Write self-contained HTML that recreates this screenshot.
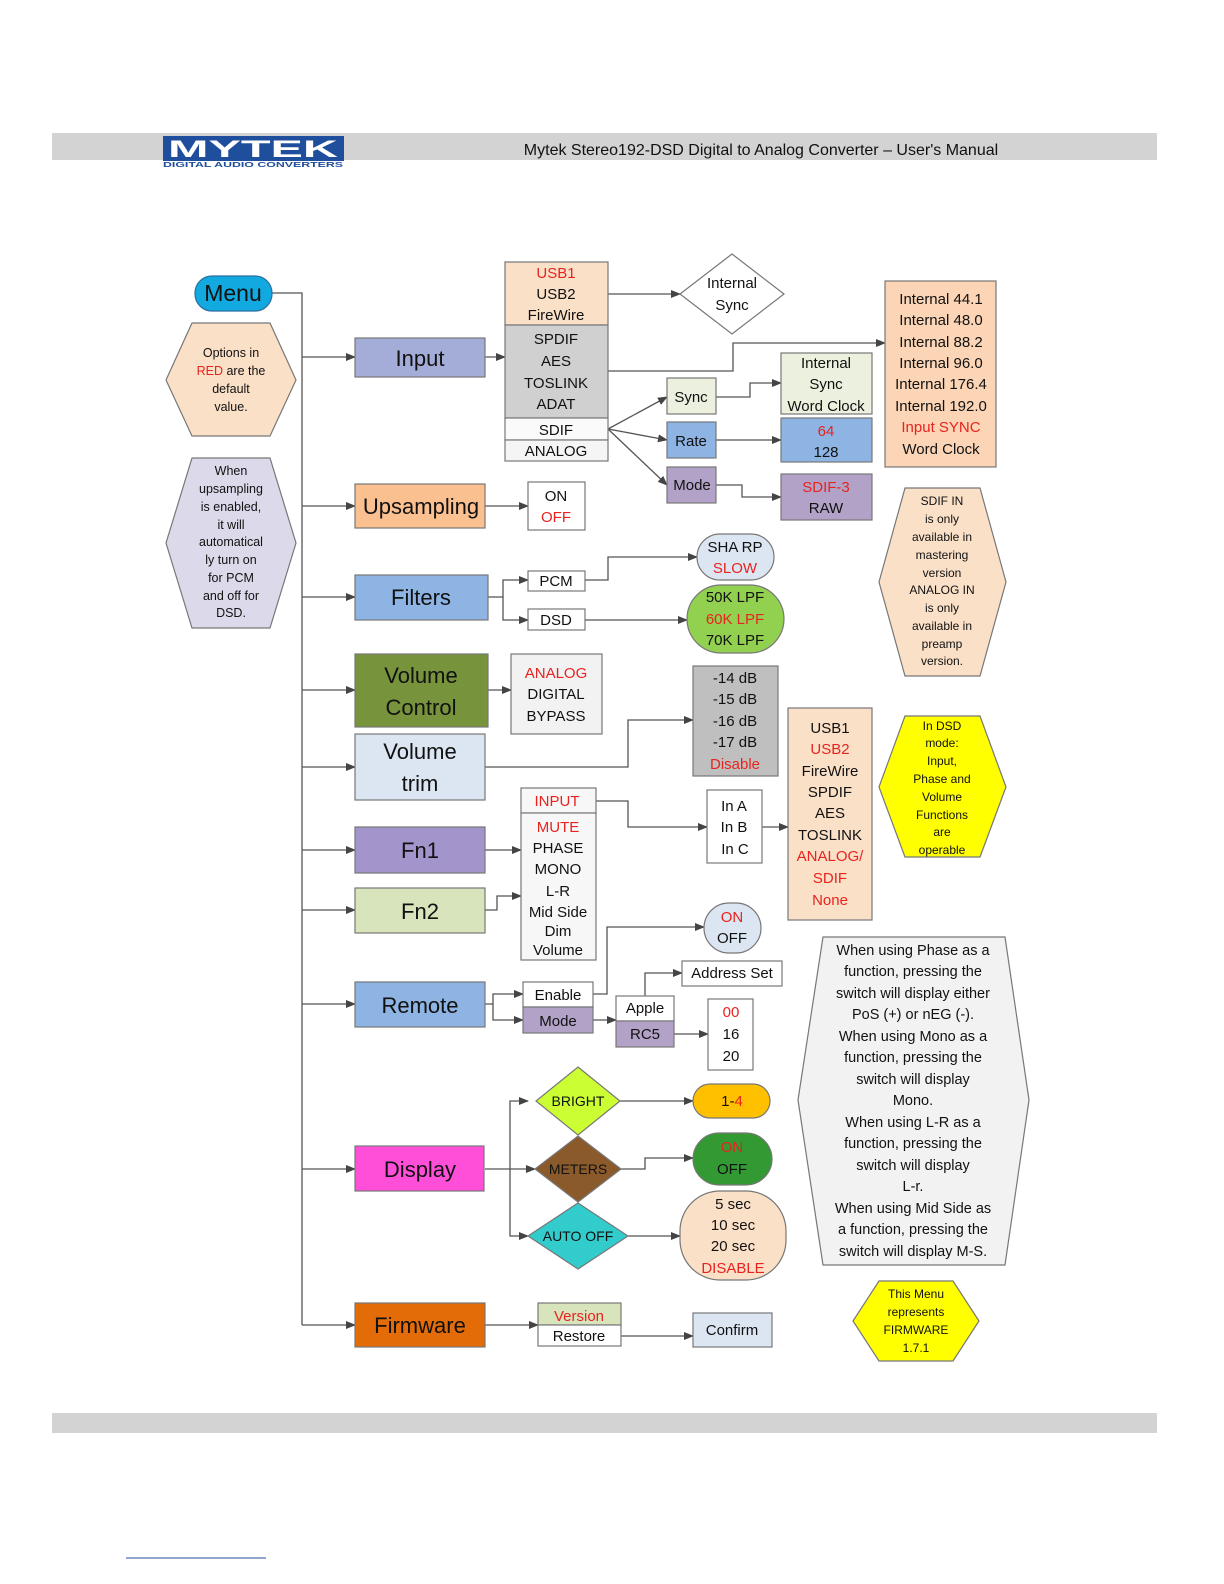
<!DOCTYPE html>
<html><head><meta charset="utf-8"><style>
html,body{margin:0;padding:0;background:#fff}
svg{display:block}
text{font-family:"Liberation Sans",sans-serif;fill:#111}
.r{fill:#e8231f}
</style></head><body>
<svg width="1224" height="1584" viewBox="0 0 1224 1584" xmlns="http://www.w3.org/2000/svg">
<defs>
<marker id="a" markerWidth="10" markerHeight="8" refX="9" refY="4" orient="auto" markerUnits="userSpaceOnUse"><path d="M0,0L10,4L0,8z" fill="#444"/></marker>
</defs>
<!-- header -->
<rect x="52" y="133" width="1105" height="27" fill="#d3d3d3"/>
<rect x="163" y="136" width="181" height="25" fill="#1f4e9c"/>
<text x="253" y="157" font-size="24" font-weight="bold" text-anchor="middle" style="fill:#fff" textLength="170" lengthAdjust="spacingAndGlyphs">MYTEK</text>
<text x="253" y="167" font-size="7" font-weight="bold" text-anchor="middle" style="fill:#1f4e9c" textLength="180" lengthAdjust="spacingAndGlyphs">DIGITAL AUDIO CONVERTERS</text>
<text x="761" y="155" font-size="16" text-anchor="middle">Mytek Stereo192-DSD Digital to Analog Converter – User's Manual</text>
<rect x="52" y="1413" width="1105" height="20" fill="#d3d3d3"/>
<line x1="126" y1="1558" x2="266" y2="1558" stroke="#1f4e9c" stroke-width="1"/>

<g stroke="#555" stroke-width="1.3" fill="none">
<path d="M272,293H302V1325"/>
<path d="M302,357H355" marker-end="url(#a)"/>
<path d="M302,506H355" marker-end="url(#a)"/>
<path d="M302,597H355" marker-end="url(#a)"/>
<path d="M302,690H355" marker-end="url(#a)"/>
<path d="M302,767H355" marker-end="url(#a)"/>
<path d="M302,850H355" marker-end="url(#a)"/>
<path d="M302,910H355" marker-end="url(#a)"/>
<path d="M302,1004H355" marker-end="url(#a)"/>
<path d="M302,1169H355" marker-end="url(#a)"/>
<path d="M302,1325H355" marker-end="url(#a)"/>
<path d="M485,357H505" marker-end="url(#a)"/>
<path d="M608,294H680" marker-end="url(#a)"/>
<path d="M608,371H733V343H885" marker-end="url(#a)"/>
<path d="M608,429L667,397" marker-end="url(#a)"/>
<path d="M608,429L667,440" marker-end="url(#a)"/>
<path d="M608,429L667,485" marker-end="url(#a)"/>
<path d="M716,397H750V383H781" marker-end="url(#a)"/>
<path d="M716,440H781" marker-end="url(#a)"/>
<path d="M716,485H742V497H781" marker-end="url(#a)"/>
<path d="M485,506H528" marker-end="url(#a)"/>
<path d="M488,597H503V580H528" marker-end="url(#a)"/>
<path d="M503,597V620H528" marker-end="url(#a)"/>
<path d="M585,580H608V557H697" marker-end="url(#a)"/>
<path d="M585,620H687" marker-end="url(#a)"/>
<path d="M488,690H511" marker-end="url(#a)"/>
<path d="M485,767H628V720H693" marker-end="url(#a)"/>
<path d="M485,850H521" marker-end="url(#a)"/>
<path d="M485,910H497V896H521" marker-end="url(#a)"/>
<path d="M596,801H628V827H707" marker-end="url(#a)"/>
<path d="M762,827H788" marker-end="url(#a)"/>
<path d="M485,1004H493V994H523" marker-end="url(#a)"/>
<path d="M493,1004V1020H523" marker-end="url(#a)"/>
<path d="M593,994H607V927H704" marker-end="url(#a)"/>
<path d="M593,1020H616" marker-end="url(#a)"/>
<path d="M645,996V973H682" marker-end="url(#a)"/>
<path d="M674,1034H708" marker-end="url(#a)"/>
<path d="M485,1169H535" marker-end="url(#a)"/>
<path d="M510,1169V1101H528" marker-end="url(#a)"/>
<path d="M510,1169V1236H528" marker-end="url(#a)"/>
<path d="M620,1101H693" marker-end="url(#a)"/>
<path d="M621,1169H645V1158H693" marker-end="url(#a)"/>
<path d="M628,1236H680" marker-end="url(#a)"/>
<path d="M485,1325H538" marker-end="url(#a)"/>
<path d="M621,1336H693" marker-end="url(#a)"/>
</g>

<g stroke="#777" stroke-width="1.2">
<!-- Menu -->
<rect x="195" y="276" width="77" height="35" rx="17" fill="#12a9e0" stroke="#2a6fa0"/>
<!-- hexagons -->
<polygon points="192,323 270,323 296,380 270,436 192,436 166,380" fill="#fbe0c8"/>
<polygon points="192,458 270,458 296,543 270,628 192,628 166,543" fill="#dcdaea"/>
<polygon points="905,488 980,488 1006,582 980,676 905,676 879,582" fill="#fbe0c8"/>
<polygon points="905,716 980,716 1006,787 980,857 905,857 879,787" fill="#ffff00"/>
<polygon points="823,937 1005,937 1029,1100 1005,1265 823,1265 798,1100" fill="#f2f2f2"/>
<polygon points="879,1281 953,1281 979,1321 953,1361 879,1361 853,1321" fill="#ffff00"/>
<!-- left boxes -->
<rect x="355" y="338" width="130" height="39" fill="#a4acd8"/>
<rect x="355" y="484" width="130" height="44" fill="#fac090"/>
<rect x="355" y="575" width="133" height="45" fill="#8db4e2"/>
<rect x="355" y="654" width="133" height="73" fill="#77933c"/>
<rect x="355" y="734" width="130" height="66" fill="#dce6f2"/>
<rect x="355" y="827" width="130" height="46" fill="#a395cc"/>
<rect x="355" y="888" width="130" height="45" fill="#d7e4bc"/>
<rect x="355" y="982" width="130" height="45" fill="#8db4e2"/>
<rect x="355" y="1146" width="129" height="45" fill="#ff4fd8"/>
<rect x="355" y="1303" width="130" height="44" fill="#e36c09"/>
<!-- input list -->
<rect x="505" y="262" width="103" height="63" fill="#fbe0c8"/>
<rect x="505" y="325" width="103" height="93" fill="#d0d0d0"/>
<rect x="505" y="418" width="103" height="22" fill="#fafafa"/>
<rect x="505" y="440" width="103" height="21" fill="#f5f5f5"/>
<polygon points="732,254 784,294 732,334 680,294" fill="#fff"/>
<rect x="885" y="281" width="111" height="186" fill="#fbd5b5"/>
<rect x="667" y="378" width="49" height="36" fill="#ebf1de"/>
<rect x="667" y="422" width="49" height="36" fill="#8db4e2"/>
<rect x="667" y="467" width="49" height="36" fill="#b3a2c7"/>
<rect x="781" y="353" width="91" height="61" fill="#ebf1de"/>
<rect x="781" y="418" width="91" height="44" fill="#8db4e2"/>
<rect x="781" y="474" width="91" height="46" fill="#b3a2c7"/>
<rect x="528" y="482" width="57" height="48" fill="#fff"/>
<rect x="528" y="571" width="57" height="20" fill="#fff"/>
<rect x="528" y="609" width="57" height="21" fill="#fff"/>
<rect x="697" y="534" width="77" height="46" rx="23" fill="#dce6f2"/>
<rect x="687" y="585" width="97" height="68" rx="34" fill="#92d050"/>
<rect x="511" y="654" width="91" height="80" fill="#f2f2f2"/>
<rect x="693" y="666" width="85" height="110" fill="#bfbfbf"/>
<rect x="521" y="788" width="75" height="25" fill="#f7f7f7"/>
<rect x="521" y="813" width="75" height="147" fill="#f7f7f7"/>
<rect x="707" y="790" width="55" height="73" fill="#fff"/>
<rect x="788" y="708" width="84" height="212" fill="#fbe0c8"/>
<rect x="523" y="982" width="70" height="25" fill="#fff"/>
<rect x="523" y="1007" width="70" height="26" fill="#b3a2c7"/>
<rect x="704" y="903" width="57" height="50" rx="25" fill="#dce6f2"/>
<rect x="616" y="996" width="58" height="25" fill="#fff"/>
<rect x="616" y="1021" width="58" height="26" fill="#b3a2c7"/>
<rect x="682" y="961" width="100" height="25" fill="#fff"/>
<rect x="708" y="999" width="45" height="71" fill="#fff"/>
<polygon points="578,1067 620,1101 578,1135 536,1101" fill="#ccff33"/>
<polygon points="578,1136 621,1169 578,1202 535,1169" fill="#8b5a2b"/>
<polygon points="578,1203 628,1236 578,1269 528,1236" fill="#33cccc"/>
<rect x="693" y="1084" width="77" height="34" rx="17" fill="#ffc000"/>
<rect x="693" y="1133" width="79" height="52" rx="26" fill="#339933"/>
<rect x="680" y="1191" width="106" height="89" rx="40" fill="#fbe0c8"/>
<rect x="538" y="1303" width="83" height="22" fill="#d7e4bc"/>
<rect x="538" y="1325" width="83" height="21" fill="#fff"/>
<rect x="693" y="1313" width="79" height="34" fill="#dce6f2"/>
</g>

<g font-size="15" text-anchor="middle">
<text x="233" y="301" font-size="23">Menu</text>
<g font-size="12.5"><text x="231" y="357">Options in</text><text x="231" y="375"><tspan class="r">RED</tspan> are the</text><text x="231" y="393">default</text><text x="231" y="411">value.</text></g>
<g font-size="12.5"><text x="231" y="475">When</text><text x="231" y="493">upsampling</text><text x="231" y="511">is enabled,</text><text x="231" y="529">it will</text><text x="231" y="546">automatical</text><text x="231" y="564">ly turn on</text><text x="231" y="582">for PCM</text><text x="231" y="600">and off for</text><text x="231" y="617">DSD.</text></g>
<g font-size="22"><text x="420" y="366">Input</text><text x="421" y="514">Upsampling</text><text x="421" y="605">Filters</text><text x="421" y="683">Volume</text><text x="421" y="715">Control</text><text x="420" y="759">Volume</text><text x="420" y="791">trim</text><text x="420" y="858">Fn1</text><text x="420" y="919">Fn2</text><text x="420" y="1013">Remote</text><text x="420" y="1177">Display</text><text x="420" y="1333">Firmware</text></g>
<text x="556" y="278" class="r">USB1</text><text x="556" y="299">USB2</text><text x="556" y="320">FireWire</text>
<text x="556" y="344">SPDIF</text><text x="556" y="366">AES</text><text x="556" y="388">TOSLINK</text><text x="556" y="409">ADAT</text>
<text x="556" y="435">SDIF</text><text x="556" y="456">ANALOG</text>
<text x="732" y="288">Internal</text><text x="732" y="310">Sync</text>
<text x="941" y="304">Internal 44.1</text><text x="941" y="325">Internal 48.0</text><text x="941" y="347">Internal 88.2</text><text x="941" y="368">Internal 96.0</text><text x="941" y="389">Internal 176.4</text><text x="941" y="411">Internal 192.0</text><text x="941" y="432" class="r">Input SYNC</text><text x="941" y="454">Word Clock</text>
<text x="691" y="402">Sync</text><text x="691" y="446">Rate</text><text x="692" y="490">Mode</text>
<text x="826" y="368">Internal</text><text x="826" y="389">Sync</text><text x="826" y="411">Word Clock</text>
<text x="826" y="436" class="r">64</text><text x="826" y="457">128</text>
<text x="826" y="492" class="r">SDIF-3</text><text x="826" y="513">RAW</text>
<g font-size="12"><text x="942" y="505">SDIF IN</text><text x="942" y="523">is only</text><text x="942" y="541">available in</text><text x="942" y="559">mastering</text><text x="942" y="577">version</text><text x="942" y="594">ANALOG IN</text><text x="942" y="612">is only</text><text x="942" y="630">available in</text><text x="942" y="648">preamp</text><text x="942" y="665">version.</text></g>
<text x="556" y="501">ON</text><text x="556" y="522" class="r">OFF</text>
<text x="556" y="586">PCM</text><text x="556" y="625">DSD</text>
<text x="735" y="552">SHA RP</text><text x="735" y="573" class="r">SLOW</text>
<text x="735" y="602">50K LPF</text><text x="735" y="624" class="r">60K LPF</text><text x="735" y="645">70K LPF</text>
<text x="556" y="678" class="r">ANALOG</text><text x="556" y="699">DIGITAL</text><text x="556" y="721">BYPASS</text>
<text x="735" y="683">-14 dB</text><text x="735" y="704">-15 dB</text><text x="735" y="726">-16 dB</text><text x="735" y="747">-17 dB</text><text x="735" y="769" class="r">Disable</text>
<text x="557" y="806" class="r">INPUT</text><text x="558" y="832" class="r">MUTE</text><text x="558" y="853">PHASE</text><text x="558" y="874">MONO</text><text x="558" y="896">L-R</text><text x="558" y="917">Mid Side</text><text x="558" y="936">Dim</text><text x="558" y="955">Volume</text>
<text x="734" y="811">In A</text><text x="734" y="832">In B</text><text x="735" y="854">In C</text>
<text x="830" y="733">USB1</text><text x="830" y="754" class="r">USB2</text><text x="830" y="776">FireWire</text><text x="830" y="797">SPDIF</text><text x="830" y="818">AES</text><text x="830" y="840">TOSLINK</text><text x="830" y="861" class="r">ANALOG/</text><text x="830" y="883" class="r">SDIF</text><text x="830" y="905" class="r">None</text>
<g font-size="12"><text x="942" y="730">In DSD</text><text x="942" y="747">mode:</text><text x="942" y="765">Input,</text><text x="942" y="783">Phase and</text><text x="942" y="801">Volume</text><text x="942" y="819">Functions</text><text x="942" y="836">are</text><text x="942" y="854">operable</text></g>
<text x="558" y="1000">Enable</text><text x="558" y="1026">Mode</text>
<text x="732" y="922" class="r">ON</text><text x="732" y="943">OFF</text>
<text x="645" y="1013">Apple</text><text x="645" y="1039">RC5</text>
<text x="732" y="978">Address Set</text>
<text x="731" y="1017" class="r">00</text><text x="731" y="1039">16</text><text x="731" y="1061">20</text>
<g font-size="14.5"><text x="913" y="955">When using Phase as a</text><text x="913" y="976">function, pressing the</text><text x="913" y="998">switch will display either</text><text x="913" y="1019">PoS (+) or nEG (-).</text><text x="913" y="1041">When using Mono as a</text><text x="913" y="1062">function, pressing the</text><text x="913" y="1084">switch will display</text><text x="913" y="1105">Mono.</text><text x="913" y="1127">When using L-R as a</text><text x="913" y="1148">function, pressing the</text><text x="913" y="1170">switch will display</text><text x="913" y="1191">L-r.</text><text x="913" y="1213">When using Mid Side as</text><text x="913" y="1234">a function, pressing the</text><text x="913" y="1256">switch will display M-S.</text></g>
<text x="578" y="1106" font-size="14">BRIGHT</text><text x="578" y="1174" font-size="14">METERS</text><text x="578" y="1241" font-size="14">AUTO OFF</text>
<text x="732" y="1106">1-<tspan class="r">4</tspan></text>
<text x="732" y="1152" class="r">ON</text><text x="732" y="1174">OFF</text>
<text x="733" y="1209">5 sec</text><text x="733" y="1230">10 sec</text><text x="733" y="1251">20 sec</text><text x="733" y="1273" class="r">DISABLE</text>
<text x="579" y="1321" class="r">Version</text><text x="579" y="1341">Restore</text>
<text x="732" y="1335">Confirm</text>
<g font-size="12"><text x="916" y="1298">This Menu</text><text x="916" y="1316">represents</text><text x="916" y="1334">FIRMWARE</text><text x="916" y="1352">1.7.1</text></g>
</g>
</svg>
</body></html>
